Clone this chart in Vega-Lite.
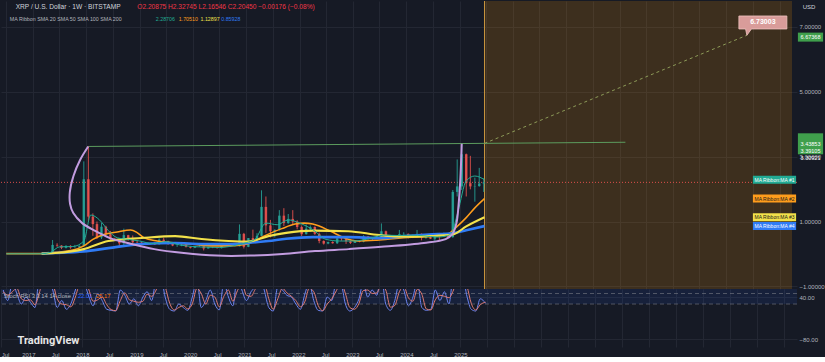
{
  "$schema": "https://vega.github.io/schema/vega-lite/v6.json",
  "background": "#161a25",
  "padding": 0,
  "spacing": 0,
  "bounds": "flush",
  "config": {
    "view": {"stroke": null},
    "axis": {"labelColor": "#b2b5be", "labelFontSize": 6, "gridColor": "#232733", "domain": false, "ticks": false, "labelOverlap": false}
  },
  "datasets": {
    "header": [
      {"date":"2016-09-04","price":7.6,"label":"XRP / U.S. Dollar · 1W · BITSTAMP","kind":"title","size":"big"},
      {"date":"2018-12-16","price":7.6,"label":"O2.20875  H2.32745  L2.16546  C2.20450  −0.00176 (−0.08%)","kind":"ohlc","size":"big"},
      {"date":"2016-07-26","price":7.23,"label":"MA Ribbon SMA 20 SMA 50 SMA 100 SMA 200","kind":"sub","size":"small"},
      {"date":"2019-04-22","price":7.23,"label":"2.28706","kind":"MA #1","size":"small"},
      {"date":"2019-09-26","price":7.23,"label":"1.70510","kind":"MA #2","size":"small"},
      {"date":"2020-02-22","price":7.23,"label":"1.12897","kind":"MA #3","size":"small"},
      {"date":"2020-07-13","price":7.23,"label":"0.85928","kind":"MA #4","size":"small"}
    ],
    "candles": [
      {"date":"2016-07-15","open":0.0064,"high":0.0067,"low":0.0058,"close":0.0062},
      {"date":"2016-08-15","open":0.0062,"high":0.0064,"low":0.0055,"close":0.0059},
      {"date":"2016-09-15","open":0.0059,"high":0.0096,"low":0.0058,"close":0.0081},
      {"date":"2016-10-15","open":0.0081,"high":0.0083,"low":0.0072,"close":0.0075},
      {"date":"2016-11-15","open":0.0075,"high":0.0082,"low":0.0072,"close":0.0077},
      {"date":"2016-12-15","open":0.0077,"high":0.0078,"low":0.0063,"close":0.0065},
      {"date":"2017-01-15","open":0.0065,"high":0.0071,"low":0.006,"close":0.0063},
      {"date":"2017-02-15","open":0.0063,"high":0.0065,"low":0.0055,"close":0.0058},
      {"date":"2017-03-15","open":0.0058,"high":0.031,"low":0.0058,"close":0.023},
      {"date":"2017-04-15","open":0.023,"high":0.07,"low":0.022,"close":0.056},
      {"date":"2017-05-15","open":0.056,"high":0.43,"low":0.052,"close":0.28},
      {"date":"2017-06-15","open":0.28,"high":0.33,"low":0.22,"close":0.26},
      {"date":"2017-07-15","open":0.26,"high":0.27,"low":0.15,"close":0.19},
      {"date":"2017-08-15","open":0.19,"high":0.27,"low":0.17,"close":0.25},
      {"date":"2017-09-15","open":0.25,"high":0.27,"low":0.16,"close":0.2},
      {"date":"2017-10-15","open":0.2,"high":0.28,"low":0.19,"close":0.2},
      {"date":"2017-11-15","open":0.2,"high":0.26,"low":0.19,"close":0.25},
      {"date":"2017-12-15","open":0.25,"high":2.85,"low":0.23,"close":2.3},
      {"date":"2018-01-15","open":2.3,"high":3.31,"low":1.0,"close":1.15},
      {"date":"2018-02-15","open":1.15,"high":1.25,"low":0.56,"close":0.92},
      {"date":"2018-03-15","open":0.92,"high":1.0,"low":0.46,"close":0.51},
      {"date":"2018-04-15","open":0.51,"high":0.96,"low":0.46,"close":0.84},
      {"date":"2018-05-15","open":0.84,"high":0.87,"low":0.57,"close":0.61},
      {"date":"2018-06-15","open":0.61,"high":0.71,"low":0.43,"close":0.47},
      {"date":"2018-07-15","open":0.47,"high":0.5,"low":0.42,"close":0.43},
      {"date":"2018-08-15","open":0.43,"high":0.45,"low":0.25,"close":0.33},
      {"date":"2018-09-15","open":0.33,"high":0.78,"low":0.25,"close":0.58},
      {"date":"2018-10-15","open":0.58,"high":0.59,"low":0.41,"close":0.45},
      {"date":"2018-11-15","open":0.45,"high":0.57,"low":0.32,"close":0.36},
      {"date":"2018-12-15","open":0.36,"high":0.43,"low":0.29,"close":0.35},
      {"date":"2019-01-15","open":0.35,"high":0.38,"low":0.29,"close":0.31},
      {"date":"2019-02-15","open":0.31,"high":0.34,"low":0.28,"close":0.31},
      {"date":"2019-03-15","open":0.31,"high":0.33,"low":0.3,"close":0.31},
      {"date":"2019-04-15","open":0.31,"high":0.37,"low":0.28,"close":0.3},
      {"date":"2019-05-15","open":0.3,"high":0.48,"low":0.29,"close":0.44},
      {"date":"2019-06-15","open":0.44,"high":0.5,"low":0.37,"close":0.4},
      {"date":"2019-07-15","open":0.4,"high":0.41,"low":0.28,"close":0.32},
      {"date":"2019-08-15","open":0.32,"high":0.33,"low":0.24,"close":0.26},
      {"date":"2019-09-15","open":0.26,"high":0.32,"low":0.22,"close":0.26},
      {"date":"2019-10-15","open":0.26,"high":0.31,"low":0.24,"close":0.29},
      {"date":"2019-11-15","open":0.29,"high":0.31,"low":0.2,"close":0.22},
      {"date":"2019-12-15","open":0.22,"high":0.23,"low":0.17,"close":0.19},
      {"date":"2020-01-15","open":0.19,"high":0.25,"low":0.18,"close":0.24},
      {"date":"2020-02-15","open":0.24,"high":0.34,"low":0.22,"close":0.24},
      {"date":"2020-03-15","open":0.24,"high":0.25,"low":0.11,"close":0.17},
      {"date":"2020-04-15","open":0.17,"high":0.22,"low":0.17,"close":0.21},
      {"date":"2020-05-15","open":0.21,"high":0.22,"low":0.18,"close":0.2},
      {"date":"2020-06-15","open":0.2,"high":0.21,"low":0.17,"close":0.18},
      {"date":"2020-07-15","open":0.18,"high":0.26,"low":0.17,"close":0.25},
      {"date":"2020-08-15","open":0.25,"high":0.32,"low":0.25,"close":0.28},
      {"date":"2020-09-15","open":0.28,"high":0.29,"low":0.22,"close":0.24},
      {"date":"2020-10-15","open":0.24,"high":0.26,"low":0.23,"close":0.24},
      {"date":"2020-11-15","open":0.24,"high":0.91,"low":0.23,"close":0.62},
      {"date":"2020-12-15","open":0.62,"high":0.65,"low":0.17,"close":0.22},
      {"date":"2021-01-15","open":0.22,"high":0.49,"low":0.21,"close":0.49},
      {"date":"2021-02-15","open":0.49,"high":0.75,"low":0.34,"close":0.43},
      {"date":"2021-03-15","open":0.43,"high":0.64,"low":0.4,"close":0.56},
      {"date":"2021-04-15","open":0.56,"high":1.96,"low":0.55,"close":1.45},
      {"date":"2021-05-15","open":1.45,"high":1.77,"low":0.65,"close":0.88},
      {"date":"2021-06-15","open":0.88,"high":1.05,"low":0.51,"close":0.7},
      {"date":"2021-07-15","open":0.7,"high":0.76,"low":0.51,"close":0.74},
      {"date":"2021-08-15","open":0.74,"high":1.35,"low":0.72,"close":1.18},
      {"date":"2021-09-15","open":1.18,"high":1.41,"low":0.86,"close":0.95},
      {"date":"2021-10-15","open":0.95,"high":1.23,"low":0.93,"close":1.08},
      {"date":"2021-11-15","open":1.08,"high":1.35,"low":0.91,"close":1.0},
      {"date":"2021-12-15","open":1.0,"high":1.04,"low":0.76,"close":0.83},
      {"date":"2022-01-15","open":0.83,"high":0.88,"low":0.55,"close":0.61},
      {"date":"2022-02-15","open":0.61,"high":0.91,"low":0.6,"close":0.78},
      {"date":"2022-03-15","open":0.78,"high":0.88,"low":0.69,"close":0.83},
      {"date":"2022-04-15","open":0.83,"high":0.85,"low":0.59,"close":0.62},
      {"date":"2022-05-15","open":0.62,"high":0.66,"low":0.33,"close":0.4},
      {"date":"2022-06-15","open":0.4,"high":0.42,"low":0.29,"close":0.32},
      {"date":"2022-07-15","open":0.32,"high":0.38,"low":0.3,"close":0.37},
      {"date":"2022-08-15","open":0.37,"high":0.39,"low":0.32,"close":0.33},
      {"date":"2022-09-15","open":0.33,"high":0.56,"low":0.31,"close":0.48},
      {"date":"2022-10-15","open":0.48,"high":0.51,"low":0.41,"close":0.46},
      {"date":"2022-11-15","open":0.46,"high":0.49,"low":0.31,"close":0.39},
      {"date":"2022-12-15","open":0.39,"high":0.41,"low":0.31,"close":0.34},
      {"date":"2023-01-15","open":0.34,"high":0.43,"low":0.34,"close":0.41},
      {"date":"2023-02-15","open":0.41,"high":0.42,"low":0.36,"close":0.38},
      {"date":"2023-03-15","open":0.38,"high":0.58,"low":0.36,"close":0.54},
      {"date":"2023-04-15","open":0.54,"high":0.55,"low":0.44,"close":0.47},
      {"date":"2023-05-15","open":0.47,"high":0.52,"low":0.42,"close":0.51},
      {"date":"2023-06-15","open":0.51,"high":0.56,"low":0.46,"close":0.47},
      {"date":"2023-07-15","open":0.47,"high":0.94,"low":0.46,"close":0.7},
      {"date":"2023-08-15","open":0.7,"high":0.72,"low":0.43,"close":0.51},
      {"date":"2023-09-15","open":0.51,"high":0.54,"low":0.47,"close":0.5},
      {"date":"2023-10-15","open":0.5,"high":0.58,"low":0.49,"close":0.55},
      {"date":"2023-11-15","open":0.55,"high":0.74,"low":0.55,"close":0.61},
      {"date":"2023-12-15","open":0.61,"high":0.67,"low":0.59,"close":0.62},
      {"date":"2024-01-15","open":0.62,"high":0.63,"low":0.48,"close":0.5},
      {"date":"2024-02-15","open":0.5,"high":0.6,"low":0.49,"close":0.55},
      {"date":"2024-03-15","open":0.55,"high":0.74,"low":0.54,"close":0.62},
      {"date":"2024-04-15","open":0.62,"high":0.63,"low":0.42,"close":0.5},
      {"date":"2024-05-15","open":0.5,"high":0.55,"low":0.47,"close":0.52},
      {"date":"2024-06-15","open":0.52,"high":0.53,"low":0.46,"close":0.47},
      {"date":"2024-07-15","open":0.47,"high":0.64,"low":0.38,"close":0.61},
      {"date":"2024-08-15","open":0.61,"high":0.65,"low":0.43,"close":0.56},
      {"date":"2024-09-15","open":0.56,"high":0.66,"low":0.52,"close":0.59},
      {"date":"2024-10-15","open":0.59,"high":0.6,"low":0.49,"close":0.52},
      {"date":"2024-11-15","open":0.52,"high":1.97,"low":0.5,"close":1.91},
      {"date":"2024-12-15","open":1.91,"high":2.91,"low":1.77,"close":2.08},
      {"date":"2025-01-15","open":2.08,"high":3.39,"low":1.97,"close":3.07},
      {"date":"2025-02-15","open":3.07,"high":3.09,"low":1.77,"close":2.18},
      {"date":"2025-03-15","open":2.18,"high":3.02,"low":1.99,"close":2.08},
      {"date":"2025-04-15","open":2.08,"high":2.35,"low":1.61,"close":2.09},
      {"date":"2025-05-15","open":2.09,"high":2.65,"low":2.07,"close":2.17},
      {"date":"2025-06-15","open":2.17,"high":2.33,"low":1.91,"close":2.2045}
    ],
    "ma": [
      {"date":"2016-07-02","ma":"MA #2","value":0.012},
      {"date":"2017-03-01","ma":"MA #2","value":0.012},
      {"date":"2017-06-01","ma":"MA #2","value":0.05},
      {"date":"2017-10-01","ma":"MA #2","value":0.12},
      {"date":"2017-12-15","ma":"MA #2","value":0.25},
      {"date":"2018-02-15","ma":"MA #2","value":0.45},
      {"date":"2018-05-01","ma":"MA #2","value":0.6},
      {"date":"2018-08-01","ma":"MA #2","value":0.68},
      {"date":"2018-11-01","ma":"MA #2","value":0.74},
      {"date":"2018-12-15","ma":"MA #2","value":0.66},
      {"date":"2019-02-01","ma":"MA #2","value":0.5},
      {"date":"2019-05-01","ma":"MA #2","value":0.4},
      {"date":"2019-09-01","ma":"MA #2","value":0.34},
      {"date":"2020-01-01","ma":"MA #2","value":0.3},
      {"date":"2020-05-01","ma":"MA #2","value":0.25},
      {"date":"2020-09-01","ma":"MA #2","value":0.25},
      {"date":"2021-01-01","ma":"MA #2","value":0.3},
      {"date":"2021-05-01","ma":"MA #2","value":0.55},
      {"date":"2021-09-01","ma":"MA #2","value":0.78},
      {"date":"2021-12-01","ma":"MA #2","value":0.92},
      {"date":"2022-02-01","ma":"MA #2","value":0.95},
      {"date":"2022-04-01","ma":"MA #2","value":0.92},
      {"date":"2022-08-01","ma":"MA #2","value":0.7},
      {"date":"2022-11-01","ma":"MA #2","value":0.5},
      {"date":"2023-02-01","ma":"MA #2","value":0.4},
      {"date":"2023-06-01","ma":"MA #2","value":0.42},
      {"date":"2023-10-01","ma":"MA #2","value":0.47},
      {"date":"2024-03-01","ma":"MA #2","value":0.52},
      {"date":"2024-07-01","ma":"MA #2","value":0.55},
      {"date":"2024-10-15","ma":"MA #2","value":0.62},
      {"date":"2024-12-15","ma":"MA #2","value":0.85},
      {"date":"2025-02-15","ma":"MA #2","value":1.12},
      {"date":"2025-04-15","ma":"MA #2","value":1.42},
      {"date":"2025-06-20","ma":"MA #2","value":1.7051},
      {"date":"2017-03-01","ma":"MA #4","value":0.012},
      {"date":"2017-06-01","ma":"MA #4","value":0.03},
      {"date":"2017-12-15","ma":"MA #4","value":0.08},
      {"date":"2018-06-01","ma":"MA #4","value":0.18},
      {"date":"2019-01-15","ma":"MA #4","value":0.31},
      {"date":"2019-09-01","ma":"MA #4","value":0.34},
      {"date":"2020-03-01","ma":"MA #4","value":0.31},
      {"date":"2020-09-01","ma":"MA #4","value":0.31},
      {"date":"2021-01-15","ma":"MA #4","value":0.34},
      {"date":"2021-06-01","ma":"MA #4","value":0.4},
      {"date":"2021-10-01","ma":"MA #4","value":0.47},
      {"date":"2022-04-01","ma":"MA #4","value":0.52},
      {"date":"2022-12-01","ma":"MA #4","value":0.52},
      {"date":"2023-07-01","ma":"MA #4","value":0.49},
      {"date":"2024-01-01","ma":"MA #4","value":0.55},
      {"date":"2024-06-01","ma":"MA #4","value":0.6},
      {"date":"2024-11-15","ma":"MA #4","value":0.64},
      {"date":"2025-02-15","ma":"MA #4","value":0.73},
      {"date":"2025-06-20","ma":"MA #4","value":0.85928},
      {"date":"2017-03-01","ma":"MA #3","value":0.012},
      {"date":"2017-06-01","ma":"MA #3","value":0.03},
      {"date":"2017-12-15","ma":"MA #3","value":0.15},
      {"date":"2018-06-01","ma":"MA #3","value":0.4},
      {"date":"2019-01-15","ma":"MA #3","value":0.49},
      {"date":"2019-09-01","ma":"MA #3","value":0.55},
      {"date":"2020-03-01","ma":"MA #3","value":0.46},
      {"date":"2020-09-01","ma":"MA #3","value":0.4},
      {"date":"2021-01-15","ma":"MA #3","value":0.38},
      {"date":"2021-06-01","ma":"MA #3","value":0.55},
      {"date":"2021-10-01","ma":"MA #3","value":0.65},
      {"date":"2022-04-01","ma":"MA #3","value":0.72},
      {"date":"2022-12-01","ma":"MA #3","value":0.7},
      {"date":"2023-07-01","ma":"MA #3","value":0.58},
      {"date":"2024-01-01","ma":"MA #3","value":0.53},
      {"date":"2024-06-01","ma":"MA #3","value":0.55},
      {"date":"2024-11-15","ma":"MA #3","value":0.6},
      {"date":"2025-02-15","ma":"MA #3","value":0.85},
      {"date":"2025-06-20","ma":"MA #3","value":1.12897},
      {"date":"2016-07-02","ma":"MA #1","value":0.006},
      {"date":"2017-03-01","ma":"MA #1","value":0.007},
      {"date":"2017-05-01","ma":"MA #1","value":0.05},
      {"date":"2017-07-01","ma":"MA #1","value":0.22},
      {"date":"2017-10-01","ma":"MA #1","value":0.23},
      {"date":"2017-12-15","ma":"MA #1","value":0.4},
      {"date":"2018-02-01","ma":"MA #1","value":1.2},
      {"date":"2018-04-01","ma":"MA #1","value":1.05},
      {"date":"2018-06-01","ma":"MA #1","value":0.72},
      {"date":"2018-08-01","ma":"MA #1","value":0.5},
      {"date":"2018-10-15","ma":"MA #1","value":0.45},
      {"date":"2019-01-01","ma":"MA #1","value":0.4},
      {"date":"2019-04-01","ma":"MA #1","value":0.32},
      {"date":"2019-07-01","ma":"MA #1","value":0.38},
      {"date":"2019-10-01","ma":"MA #1","value":0.28},
      {"date":"2020-01-01","ma":"MA #1","value":0.23},
      {"date":"2020-04-01","ma":"MA #1","value":0.21},
      {"date":"2020-07-01","ma":"MA #1","value":0.2},
      {"date":"2020-10-01","ma":"MA #1","value":0.25},
      {"date":"2021-01-01","ma":"MA #1","value":0.35},
      {"date":"2021-03-01","ma":"MA #1","value":0.45},
      {"date":"2021-05-15","ma":"MA #1","value":0.95},
      {"date":"2021-08-01","ma":"MA #1","value":0.9},
      {"date":"2021-10-15","ma":"MA #1","value":1.05},
      {"date":"2022-01-01","ma":"MA #1","value":0.95},
      {"date":"2022-04-01","ma":"MA #1","value":0.75},
      {"date":"2022-07-01","ma":"MA #1","value":0.45},
      {"date":"2022-10-01","ma":"MA #1","value":0.4},
      {"date":"2023-01-01","ma":"MA #1","value":0.4},
      {"date":"2023-04-01","ma":"MA #1","value":0.45},
      {"date":"2023-08-01","ma":"MA #1","value":0.58},
      {"date":"2023-11-01","ma":"MA #1","value":0.57},
      {"date":"2024-02-01","ma":"MA #1","value":0.58},
      {"date":"2024-05-01","ma":"MA #1","value":0.56},
      {"date":"2024-08-01","ma":"MA #1","value":0.52},
      {"date":"2024-11-01","ma":"MA #1","value":0.6},
      {"date":"2024-12-20","ma":"MA #1","value":1.3},
      {"date":"2025-02-15","ma":"MA #1","value":2.25},
      {"date":"2025-04-15","ma":"MA #1","value":2.4},
      {"date":"2025-06-20","ma":"MA #1","value":2.28706}
    ],
    "malabels": [
      {"ma":"MA #1","price":2.28706,"label":"MA Ribbon:MA #1"},
      {"ma":"MA #2","price":1.7051,"label":"MA Ribbon:MA #2"},
      {"ma":"MA #3","price":1.12897,"label":"MA Ribbon:MA #3"},
      {"ma":"MA #4","price":0.85928,"label":"MA Ribbon:MA #4"}
    ],
    "arc": [
      {"i":1,"date":"2018-01-14","price":3.31},
      {"i":2,"date":"2017-11-20","price":2.9},
      {"i":3,"date":"2017-10-05","price":2.4},
      {"i":4,"date":"2017-09-10","price":1.9},
      {"i":5,"date":"2017-09-12","price":1.54},
      {"i":6,"date":"2017-10-04","price":1.26},
      {"i":7,"date":"2017-12-04","price":0.95},
      {"i":8,"date":"2018-03-02","price":0.71},
      {"i":9,"date":"2018-06-11","price":0.49},
      {"i":10,"date":"2018-10-11","price":0.34},
      {"i":11,"date":"2019-04-11","price":0.15},
      {"i":12,"date":"2019-10-31","price":0.03},
      {"i":13,"date":"2020-06-11","price":-0.05},
      {"i":14,"date":"2021-01-27","price":-0.05},
      {"i":15,"date":"2021-09-07","price":0.0},
      {"i":16,"date":"2022-04-17","price":0.09},
      {"i":17,"date":"2022-12-04","price":0.15},
      {"i":18,"date":"2023-07-15","price":0.22},
      {"i":19,"date":"2024-05-01","price":0.34},
      {"i":20,"date":"2024-09-27","price":0.46},
      {"i":21,"date":"2024-11-13","price":0.62},
      {"i":22,"date":"2024-12-10","price":0.95},
      {"i":23,"date":"2024-12-24","price":1.48},
      {"i":24,"date":"2025-01-05","price":2.25},
      {"i":25,"date":"2025-01-11","price":2.86},
      {"i":26,"date":"2025-01-15","price":3.39}
    ],
    "stoch": [
      {"date":"2016-07-15","k":60,"d":55},{"date":"2016-08-15","k":30,"d":45},{"date":"2016-09-15","k":80,"d":55},{"date":"2016-10-15","k":50,"d":65},{"date":"2016-11-15","k":20,"d":35},{"date":"2016-12-15","k":40,"d":30},
      {"date":"2017-01-15","k":25,"d":32},{"date":"2017-02-15","k":10,"d":18},{"date":"2017-03-15","k":90,"d":50},{"date":"2017-04-15","k":100,"d":95},{"date":"2017-05-15","k":100,"d":100},{"date":"2017-06-15","k":60,"d":80},{"date":"2017-07-15","k":10,"d":35},{"date":"2017-08-15","k":30,"d":20},{"date":"2017-09-15","k":5,"d":18},{"date":"2017-10-15","k":20,"d":12},{"date":"2017-11-15","k":60,"d":40},{"date":"2017-12-15","k":100,"d":80},
      {"date":"2018-01-15","k":80,"d":90},{"date":"2018-02-15","k":40,"d":60},{"date":"2018-03-15","k":15,"d":28},{"date":"2018-04-15","k":50,"d":32},{"date":"2018-05-15","k":30,"d":40},{"date":"2018-06-15","k":5,"d":18},{"date":"2018-07-15","k":2,"d":4},{"date":"2018-08-15","k":0,"d":1},{"date":"2018-09-15","k":60,"d":30},{"date":"2018-10-15","k":45,"d":52},{"date":"2018-11-15","k":20,"d":32},{"date":"2018-12-15","k":35,"d":28},
      {"date":"2019-01-15","k":15,"d":25},{"date":"2019-02-15","k":40,"d":28},{"date":"2019-03-15","k":55,"d":48},{"date":"2019-04-15","k":30,"d":42},{"date":"2019-05-15","k":90,"d":60},{"date":"2019-06-15","k":100,"d":95},{"date":"2019-07-15","k":40,"d":70},{"date":"2019-08-15","k":5,"d":22},{"date":"2019-09-15","k":0,"d":3},{"date":"2019-10-15","k":20,"d":10},{"date":"2019-11-15","k":10,"d":15},{"date":"2019-12-15","k":2,"d":6},
      {"date":"2020-01-15","k":40,"d":21},{"date":"2020-02-15","k":90,"d":65},{"date":"2020-03-15","k":10,"d":50},{"date":"2020-04-15","k":30,"d":20},{"date":"2020-05-15","k":60,"d":45},{"date":"2020-06-15","k":20,"d":40},{"date":"2020-07-15","k":3,"d":12},{"date":"2020-08-15","k":80,"d":42},{"date":"2020-09-15","k":40,"d":60},{"date":"2020-10-15","k":15,"d":28},{"date":"2020-11-15","k":100,"d":58},{"date":"2020-12-15","k":60,"d":80},
      {"date":"2021-01-15","k":30,"d":45},{"date":"2021-02-15","k":55,"d":42},{"date":"2021-03-15","k":70,"d":62},{"date":"2021-04-15","k":100,"d":85},{"date":"2021-05-15","k":60,"d":80},{"date":"2021-06-15","k":10,"d":35},{"date":"2021-07-15","k":0,"d":5},{"date":"2021-08-15","k":70,"d":35},{"date":"2021-09-15","k":60,"d":65},{"date":"2021-10-15","k":45,"d":52},{"date":"2021-11-15","k":40,"d":42},{"date":"2021-12-15","k":20,"d":30},
      {"date":"2022-01-15","k":5,"d":12},{"date":"2022-02-15","k":50,"d":28},{"date":"2022-03-15","k":80,"d":65},{"date":"2022-04-15","k":30,"d":55},{"date":"2022-05-15","k":2,"d":16},{"date":"2022-06-15","k":0,"d":1},{"date":"2022-07-15","k":40,"d":20},{"date":"2022-08-15","k":30,"d":35},{"date":"2022-09-15","k":85,"d":58},{"date":"2022-10-15","k":80,"d":82},{"date":"2022-11-15","k":20,"d":50},{"date":"2022-12-15","k":0,"d":10},
      {"date":"2023-01-15","k":10,"d":5},{"date":"2023-02-15","k":35,"d":22},{"date":"2023-03-15","k":80,"d":58},{"date":"2023-04-15","k":40,"d":60},{"date":"2023-05-15","k":60,"d":50},{"date":"2023-06-15","k":45,"d":52},{"date":"2023-07-15","k":100,"d":72},{"date":"2023-08-15","k":20,"d":60},{"date":"2023-09-15","k":2,"d":11},{"date":"2023-10-15","k":30,"d":16},{"date":"2023-11-15","k":80,"d":55},{"date":"2023-12-15","k":60,"d":70},
      {"date":"2024-01-15","k":15,"d":38},{"date":"2024-02-15","k":40,"d":28},{"date":"2024-03-15","k":85,"d":62},{"date":"2024-04-15","k":10,"d":48},{"date":"2024-05-15","k":2,"d":6},{"date":"2024-06-15","k":5,"d":3},{"date":"2024-07-15","k":60,"d":32},{"date":"2024-08-15","k":30,"d":45},{"date":"2024-09-15","k":55,"d":42},{"date":"2024-10-15","k":20,"d":38},{"date":"2024-11-15","k":100,"d":60},{"date":"2024-12-15","k":100,"d":100},
      {"date":"2025-01-15","k":100,"d":100},{"date":"2025-02-15","k":40,"d":70},{"date":"2025-03-15","k":5,"d":22},{"date":"2025-04-15","k":0,"d":3},{"date":"2025-05-15","k":35,"d":18},{"date":"2025-06-20","k":22.01,"d":25.17}
    ]
  },
  "vconcat": [
    {
      "width": 796,
      "height": 288,
      "layer": [
        {
          "data": {"values": [{"date": "2025-06-20", "end": "2031-03-27"}]},
          "mark": {"type": "rect", "fill": "#ff9800", "fillOpacity": 0.17},
          "encoding": {
            "x": {"field": "date", "type": "temporal", "title": null, "scale": {"type": "utc", "domain": [{"year": 2016, "month": 6, "date": 30, "utc": true}, {"year": 2031, "month": 3, "date": 27, "utc": true}]}},
            "x2": {"field": "end"}
          }
        },
        {
          "data": {"values": [{"date": "2025-06-20"}]},
          "mark": {"type": "rule", "color": "#c9953f", "strokeWidth": 1},
          "encoding": {"x": {"field": "date", "type": "temporal", "title": null}}
        },
        {
          "data": {"values": [{"date": "2018-01-14", "price": 3.30921}, {"date": "2028-02-10", "price": 3.43853}]},
          "mark": {"type": "line", "color": "#5c9c5e", "strokeWidth": 1},
          "encoding": {
            "x": {"field": "date", "type": "temporal", "title": null},
            "y": {"field": "price", "type": "quantitative", "title": null, "axis": {"labelOverlap": false}}
          }
        },
        {
          "data": {"values": [{"date": "2025-06-20", "price": 3.404}, {"date": "2030-05-22", "price": 6.73003}]},
          "mark": {"type": "line", "color": "#8d9b58", "strokeWidth": 1, "strokeDash": [3, 3]},
          "encoding": {
            "x": {"field": "date", "type": "temporal", "title": null},
            "y": {"field": "price", "type": "quantitative", "title": null, "axis": {"labelOverlap": false}}
          }
        },
        {
          "data": {"values": [{"price": 2.2045}]},
          "mark": {"type": "rule", "color": "#ef5350", "strokeWidth": 1, "strokeDash": [1, 2], "opacity": 0.9},
          "encoding": {"y": {"field": "price", "type": "quantitative", "title": null, "axis": {"labelOverlap": false}}}
        },
        {
          "data": {"name": "candles"},
          "mark": {"type": "rule", "strokeWidth": 1, "opacity": 0.85},
          "encoding": {
            "x": {"field": "date", "type": "temporal", "title": null, "axis": {"labels": false, "grid": true, "tickCount": {"interval": "month", "step": 6}}},
            "y": {"field": "low", "type": "quantitative", "title": null,
                  "scale": {"domain": [-1.077, 7.785], "nice": false, "zero": false},
                  "axis": {"orient": "right", "values": [-1, -0.5, 0, 0.5, 1, 1.5, 2, 2.5, 3, 3.5, 4, 4.5, 5, 5.5, 6, 6.5, 7], "format": ".5f", "labelOverlap": false, "grid": true}},
            "y2": {"field": "high"},
            "color": {"condition": {"test": "datum.close >= datum.open", "value": "#26a69a"}, "value": "#ef5350"}
          }
        },
        {
          "data": {"name": "candles"},
          "mark": {"type": "bar", "size": 2.5, "opacity": 0.85},
          "encoding": {
            "x": {"field": "date", "type": "temporal", "title": null},
            "y": {"field": "open", "type": "quantitative", "title": null, "axis": {"labelOverlap": false}},
            "y2": {"field": "close"},
            "color": {"condition": {"test": "datum.close >= datum.open", "value": "#26a69a"}, "value": "#ef5350"}
          }
        },
        {
          "data": {"name": "ma"},
          "mark": {"type": "line", "interpolate": "monotone"},
          "encoding": {
            "x": {"field": "date", "type": "temporal", "title": null},
            "y": {"field": "value", "type": "quantitative", "title": null, "axis": {"labelOverlap": false}},
            "color": {"field": "ma", "type": "nominal", "legend": null, "scale": {"domain": ["MA #1", "MA #2", "MA #3", "MA #4", "title", "ohlc", "sub"], "range": ["#22ab94", "#ff9d1c", "#f2e14a", "#2f7bf5", "#d1d4dc", "#f23645", "#b2b5be"]}},
            "strokeWidth": {"field": "ma", "type": "nominal", "legend": null, "scale": {"domain": ["MA #1", "MA #2", "MA #3", "MA #4"], "range": [1, 2.6, 1, 2.6]}}
          }
        },
        {
          "data": {"name": "arc"},
          "mark": {"type": "line", "interpolate": "catmull-rom", "color": "#c29ce0", "strokeWidth": 2},
          "encoding": {
            "x": {"field": "date", "type": "temporal", "title": null},
            "y": {"field": "price", "type": "quantitative", "title": null, "axis": {"labelOverlap": false}},
            "order": {"field": "i", "type": "quantitative"}
          }
        },
        {
          "data": {"name": "malabels"},
          "mark": {"type": "point", "shape": "M-2.7,-0.5H2.7V0.5H-2.7Z", "size": 256, "filled": true, "opacity": 1, "xOffset": -22.5},
          "encoding": {
            "x": {"value": "width"},
            "y": {"field": "price", "type": "quantitative", "title": null, "axis": {"labelOverlap": false}},
            "color": {"field": "ma", "type": "nominal", "legend": null}
          }
        },
        {
          "data": {"name": "malabels"},
          "mark": {"type": "text", "dx": -22.5, "fontSize": 5, "font": "Liberation Sans", "align": "center", "baseline": "middle"},
          "encoding": {
            "x": {"value": "width"},
            "y": {"field": "price", "type": "quantitative", "title": null, "axis": {"labelOverlap": false}},
            "text": {"field": "label"},
            "color": {"condition": {"test": "datum.ma == 'MA #2' || datum.ma == 'MA #3'", "value": "#1a1a1a"}, "value": "#ffffff"}
          }
        },
        {
          "data": {"name": "header"},
          "transform": [{"filter": "datum.size == 'big'"}],
          "mark": {"type": "text", "fontSize": 6.6, "font": "Liberation Sans", "align": "left", "baseline": "middle"},
          "encoding": {
            "x": {"field": "date", "type": "temporal", "title": null},
            "y": {"field": "price", "type": "quantitative", "title": null, "axis": {"labelOverlap": false}},
            "text": {"field": "label"},
            "color": {"field": "kind", "type": "nominal", "legend": null}
          }
        },
        {
          "data": {"name": "header"},
          "transform": [{"filter": "datum.size == 'small'"}],
          "mark": {"type": "text", "fontSize": 5.3, "font": "Liberation Sans", "align": "left", "baseline": "middle"},
          "encoding": {
            "x": {"field": "date", "type": "temporal", "title": null},
            "y": {"field": "price", "type": "quantitative", "title": null, "axis": {"labelOverlap": false}},
            "text": {"field": "label"},
            "color": {"field": "kind", "type": "nominal", "legend": null}
          }
        },
        {
          "data": {"values": [{"price": 6.67368, "label": "6.67368"}]},
          "mark": {"type": "point", "shape": "M-1.4,-0.5H1.4V0.5H-1.4Z", "size": 324, "filled": true, "opacity": 1, "color": "#3f9f4c", "xOffset": 13.5},
          "encoding": {"x": {"value": "width"}, "y": {"field": "price", "type": "quantitative", "title": null, "axis": {"labelOverlap": false}}}
        },
        {
          "data": {"values": [{"price": 3.39105}]},
          "mark": {"type": "point", "shape": "M-0.6,-0.5H0.6V0.5H-0.6Z", "size": 1764, "filled": true, "opacity": 1, "color": "#3f9f4c", "xOffset": 13.5},
          "encoding": {"x": {"value": "width"}, "y": {"field": "price", "type": "quantitative", "title": null, "axis": {"labelOverlap": false}}}
        },
        {
          "data": {"values": [{"price": 6.67368, "label": "6.67368"}, {"price": 3.39105, "label": "3.43853\n3.39105\n3.30921"}]},
          "mark": {"type": "text", "dx": 13.5, "fontSize": 5.5, "font": "Liberation Sans", "align": "center", "baseline": "middle", "color": "#ffffff", "lineBreak": "\n", "lineHeight": 7},
          "encoding": {"x": {"value": "width"}, "y": {"field": "price", "type": "quantitative", "title": null, "axis": {"labelOverlap": false}}, "text": {"field": "label"}}
        },
        {
          "data": {"values": [{"date": "2030-05-22", "price": 6.73003, "label": "6.73003"}]},
          "mark": {"type": "point", "shape": "M0,0L0.35,-0.485H3.077V-1.485H-0.615V-0.485H-0.1Z", "size": 676, "filled": true, "opacity": 1, "color": "#d99c9a", "stroke": "#f0c4c0", "strokeWidth": 0.8},
          "encoding": {"x": {"field": "date", "type": "temporal", "title": null}, "y": {"field": "price", "type": "quantitative", "title": null, "axis": {"labelOverlap": false}}}
        },
        {
          "data": {"values": [{"date": "2030-05-22", "price": 6.73003, "label": "6.73003"}]},
          "mark": {"type": "text", "dx": 16, "dy": -12.8, "fontSize": 7, "fontWeight": "bold", "font": "Liberation Sans", "align": "center", "baseline": "middle", "color": "#ffffff"},
          "encoding": {"x": {"field": "date", "type": "temporal", "title": null}, "y": {"field": "price", "type": "quantitative", "title": null, "axis": {"labelOverlap": false}}, "text": {"field": "label"}}
        },
        {
          "data": {"values": [{"price": 7.6, "label": "USD"}]},
          "mark": {"type": "text", "dx": 12, "fontSize": 6, "align": "center", "baseline": "middle", "color": "#d1d4dc"},
          "encoding": {"x": {"value": "width"}, "y": {"field": "price", "type": "quantitative", "title": null, "axis": {"labelOverlap": false}}, "text": {"field": "label"}}
        }
      ]
    },
    {
      "width": 796,
      "height": 58,
      "layer": [
        {
          "data": {"values": [{"lo": 20, "hi": 80}]},
          "mark": {"type": "rect", "fill": "#2962ff", "fillOpacity": 0.1, "clip": true},
          "encoding": {
            "y": {"field": "lo", "type": "quantitative", "title": null, "scale": {"domain": [-102.8, 62.9], "nice": false, "zero": false},
                  "axis": {"orient": "right", "values": [40, 0, -40, -80], "format": ".2f", "labelOverlap": false, "grid": true}},
            "y2": {"field": "hi"}
          }
        },
        {
          "data": {"values": [{"level": 80}, {"level": 50}, {"level": 20}]},
          "mark": {"type": "rule", "color": "#787b86", "strokeDash": [4, 3], "opacity": 0.6, "clip": true},
          "encoding": {"y": {"field": "level", "type": "quantitative", "title": null, "axis": {"labelOverlap": false}}}
        },
        {
          "data": {"name": "stoch"},
          "mark": {"type": "line", "color": "#6d84f0", "strokeWidth": 1, "clip": true, "interpolate": "monotone"},
          "encoding": {
            "x": {"field": "date", "type": "temporal", "title": null,
                  "scale": {"type": "utc", "domain": [{"year": 2016, "month": 6, "date": 30, "utc": true}, {"year": 2031, "month": 3, "date": 27, "utc": true}]},
                  "axis": {"grid": true, "tickCount": {"interval": "month", "step": 6}, "labelFlush": true, "labelPadding": 4,
                           "labelExpr": "datum.value > utc(2025, 2, 1) ? '' : (utcFormat(datum.value, '%m') == '01' ? utcFormat(datum.value, '%Y') : 'Jul')"}},
            "y": {"field": "k", "type": "quantitative", "title": null, "axis": {"labelOverlap": false}}
          }
        },
        {
          "data": {"name": "stoch"},
          "mark": {"type": "line", "color": "#e07a72", "strokeWidth": 1, "clip": true, "interpolate": "monotone"},
          "encoding": {
            "x": {"field": "date", "type": "temporal", "title": null},
            "y": {"field": "d", "type": "quantitative", "title": null, "axis": {"labelOverlap": false}}
          }
        },
        {
          "data": {"values": [{"date": "2016-07-20", "label": "Stoch RSI 3 3 14 14 close"}]},
          "mark": {"type": "text", "fontSize": 5.8, "font": "Liberation Sans", "align": "left", "baseline": "middle", "color": "#b2b5be"},
          "encoding": {"x": {"field": "date", "type": "temporal", "title": null}, "y": {"datum": 42.9, "type": "quantitative", "axis": {"labelOverlap": false}}, "text": {"field": "label"}}
        },
        {
          "data": {"values": [{"date": "2017-12-02", "label": "22.01"}]},
          "mark": {"type": "text", "fontSize": 5.8, "font": "Liberation Sans", "align": "left", "baseline": "middle", "color": "#2962ff"},
          "encoding": {"x": {"field": "date", "type": "temporal", "title": null}, "y": {"datum": 42.9, "type": "quantitative", "axis": {"labelOverlap": false}}, "text": {"field": "label"}}
        },
        {
          "data": {"values": [{"date": "2018-04-03", "label": "25.17"}]},
          "mark": {"type": "text", "fontSize": 5.8, "font": "Liberation Sans", "align": "left", "baseline": "middle", "color": "#ff6d00"},
          "encoding": {"x": {"field": "date", "type": "temporal", "title": null}, "y": {"datum": 42.9, "type": "quantitative", "axis": {"labelOverlap": false}}, "text": {"field": "label"}}
        },
        {
          "data": {"values": [{"date": "2016-10-20", "label": "TradingView"}]},
          "mark": {"type": "text", "fontSize": 11, "fontWeight": "bold", "font": "Roboto", "align": "left", "baseline": "middle", "color": "#e6e6e6"},
          "encoding": {
            "x": {"field": "date", "type": "temporal", "title": null},
            "y": {"datum": -85, "type": "quantitative", "axis": {"labelOverlap": false}},
            "text": {"field": "label"}
          }
        }
      ]
    }
  ]
}
